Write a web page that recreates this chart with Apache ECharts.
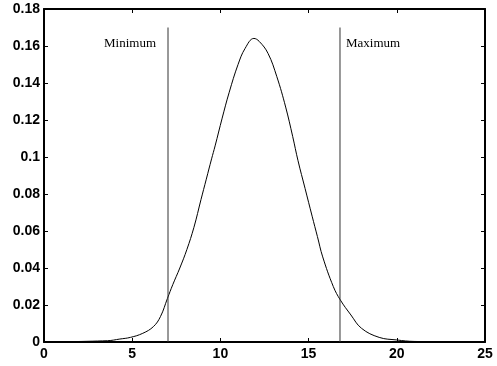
<!DOCTYPE html>
<html>
<head>
<meta charset="utf-8">
<script src="https://cdn.jsdelivr.net/npm/echarts@6/dist/echarts.min.js"></script>
<style>
  html, body { margin: 0; padding: 0; background: #fff; }
  #chart { width: 497px; height: 366px; }
</style>
</head>
<body>
<div id="chart"></div>
<script>
// curve
const curveX = [0, 3.6, 4.3, 4.9, 5.6, 6.2, 6.6, 7.0, 7.3, 7.7, 8.1, 8.5, 8.9, 9.2, 9.5, 9.7,
  10.1, 10.5, 11.0, 11.4, 11.9, 12.2, 12.7, 13.2, 13.7, 14.1, 14.4, 14.8, 15.2, 15.5, 15.8,
  16.4, 16.8, 17.4, 18.0, 19.0, 20.0, 21.0, 25];
const curveY = [0, 0.0007, 0.0016, 0.0025, 0.0047, 0.0083, 0.0137, 0.0236, 0.031, 0.040,
  0.050, 0.062, 0.077, 0.088, 0.099, 0.106, 0.121, 0.135, 0.150, 0.1587, 0.1641,
  0.1625, 0.156, 0.1434, 0.127, 0.111, 0.098, 0.083, 0.068, 0.057, 0.046, 0.030,
  0.0227, 0.0146, 0.0074, 0.0025, 0.0011, 0.0003, 0];

const minX = 7.03;
const maxX = 16.78;
const lineTop = 0.17;
const minLabel = "Minimum";
const maxLabel = "Maximum";

const xTicks = { min: 0, max: 25, interval: 5 };
const yTicks = { min: 0, max: 0.18, interval: 0.02 };

const chart = echarts.init(document.getElementById("chart"));

const axisLine = () => ({ show: true, onZero: false, lineStyle: { color: "#000", width: 2 } });
const axisTick = () => ({ show: true, inside: true, length: 4, lineStyle: { color: "#000", width: 1 } });
const tickFont = { color: "#000", fontFamily: "Liberation Sans", fontWeight: "bold", fontSize: 14 };

const vLabel = (text, pos, dist) => ({
  show: true,
  formatter: text,
  position: pos,
  distance: dist,
  offset: [0, 16],
  color: "#000",
  fontFamily: "Liberation Serif",
  fontSize: 13,
});

chart.setOption({
  animation: false,
  backgroundColor: "#fff",
  grid: { left: 44, right: 12, top: 9, bottom: 24 },
  xAxis: [
    {
      type: "value", position: "bottom", ...xTicks,
      axisLine: axisLine(), axisTick: axisTick(), splitLine: { show: false },
      axisLabel: { ...tickFont, margin: 5 },
    },
    {
      type: "value", position: "top", ...xTicks,
      axisLine: axisLine(), axisTick: axisTick(), splitLine: { show: false },
      axisLabel: { show: false },
    },
  ],
  yAxis: [
    {
      type: "value", position: "left", ...yTicks,
      axisLine: axisLine(), axisTick: axisTick(), splitLine: { show: false },
      axisLabel: { ...tickFont, margin: 4, formatter: (v) => String(+v.toFixed(2)) },
    },
    {
      type: "value", position: "right", ...yTicks,
      axisLine: axisLine(), axisTick: axisTick(), splitLine: { show: false },
      axisLabel: { show: false },
    },
  ],
  series: [
    {
      type: "line",
      data: curveX.map((x, i) => [x, curveY[i]]),
      showSymbol: false,
      smooth: 0.4,
      lineStyle: { color: "#000", width: 1 },
    },
    {
      type: "line",
      symbol: "circle", symbolSize: 0, showSymbol: true,
      lineStyle: { color: "#333", width: 1 },
      data: [[minX, 0], { value: [minX, lineTop], label: vLabel(minLabel, "left", 12) }],
    },
    {
      type: "line",
      symbol: "circle", symbolSize: 0, showSymbol: true,
      lineStyle: { color: "#333", width: 1 },
      data: [[maxX, 0], { value: [maxX, lineTop], label: vLabel(maxLabel, "right", 6) }],
    },
  ],
});
</script>
</body>
</html>
